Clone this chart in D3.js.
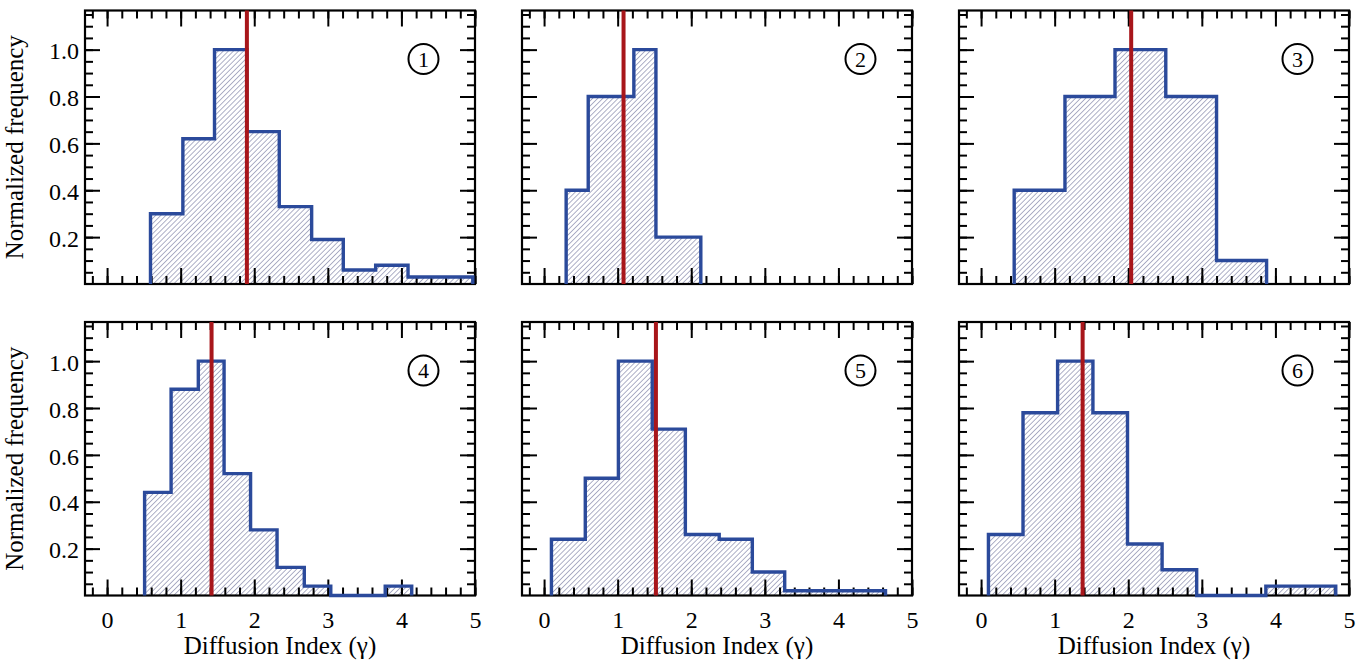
<!DOCTYPE html>
<html>
<head>
<meta charset="utf-8">
<script src="https://cdn.jsdelivr.net/npm/d3@7"></script>
<style>
  html, body { margin: 0; padding: 0; background: #fff; }
  svg { display: block; }
</style>
</head>
<body>
<svg id="chart" width="1368" height="662"></svg>
<script>
// Histogram panels: bin edges, normalized frequencies and the marked index (red line)
const panelLabels = ["1", "2", "3", "4", "5", "6"];

const edges1 = [0.59, 1.03, 1.46, 1.90, 2.34, 2.78, 3.21, 3.65, 4.09, 4.53, 4.97];
const freq1  = [0.30, 0.62, 1.00, 0.65, 0.33, 0.19, 0.06, 0.08, 0.03, 0.03];

const edges2 = [0.30, 0.60, 0.91, 1.22, 1.52, 1.82, 2.13];
const freq2  = [0.40, 0.80, 0.80, 1.00, 0.20, 0.20];

const edges3 = [0.45, 1.14, 1.82, 2.51, 3.20, 3.88];
const freq3  = [0.40, 0.80, 1.00, 0.80, 0.10];

const edges4 = [0.51, 0.87, 1.24, 1.59, 1.95, 2.31, 2.68, 3.04, 3.41, 3.78, 4.14];
const freq4  = [0.44, 0.88, 1.00, 0.52, 0.28, 0.12, 0.04, 0.00, 0.00, 0.04];

const edges5 = [0.10, 0.56, 1.01, 1.47, 1.92, 2.38, 2.83, 3.27, 3.73, 4.18, 4.64];
const freq5  = [0.24, 0.50, 1.00, 0.71, 0.26, 0.24, 0.10, 0.02, 0.02, 0.02];

const edges6 = [0.10, 0.57, 1.04, 1.52, 1.99, 2.46, 2.93, 3.40, 3.87, 4.35, 4.82];
const freq6  = [0.26, 0.78, 1.00, 0.78, 0.22, 0.11, 0.00, 0.00, 0.04, 0.04];

const markers = [1.90, 1.08, 2.04, 1.42, 1.52, 1.38];

const xMajorTicks = [0, 1, 2, 3, 4, 5];
const yMajorTicks = [0.2, 0.4, 0.6, 0.8, 1.0];
const yTickLabels = ["0.2", "0.4", "0.6", "0.8", "1.0"];

const xTitle = "Diffusion Index (\u03b3)";
const yTitle = "Normalized frequency";

const panels = [
  { edges: edges1, freq: freq1 },
  { edges: edges2, freq: freq2 },
  { edges: edges3, freq: freq3 },
  { edges: edges4, freq: freq4 },
  { edges: edges5, freq: freq5 },
  { edges: edges6, freq: freq6 }
];

// Layout
const plotW = 390, plotH = 273.5;
const colX = [85, 522, 959];
const rowY = [10.5, 322];
const xDomain = [-0.3, 5];
const yDomain = [0, 1.167];
const fontFamily = "'Liberation Serif', 'Times New Roman', serif";

const xMinor = d3.range(-0.2, 5.001, 0.2).map(v => +v.toFixed(2));
const yMinor = d3.range(0.05, 1.1501, 0.05).map(v => +v.toFixed(2));

const svg = d3.select("#chart");

// Diagonal hatch pattern
const defs = svg.append("defs");
const pat = defs.append("pattern")
  .attr("id", "hatch")
  .attr("patternUnits", "userSpaceOnUse")
  .attr("width", 3.6).attr("height", 3.6)
  .attr("patternTransform", "rotate(45)");
pat.append("line")
  .attr("x1", 0).attr("y1", 0).attr("x2", 0).attr("y2", 3.6)
  .attr("stroke", "#4e5283").attr("stroke-width", 0.9);

panels.forEach((p, i) => {
  const col = i % 3, row = Math.floor(i / 3);
  const g = svg.append("g").attr("transform", `translate(${colX[col]},${rowY[row]})`);

  const x = d3.scaleLinear().domain(xDomain).range([0, plotW]);
  const y = d3.scaleLinear().domain(yDomain).range([plotH, 0]);

  // step data: each edge paired with the bin height starting there
  const n = p.freq.length;
  const steps = p.edges.map((e, k) => ({ x: e, y: p.freq[Math.min(k, n - 1)] }));

  // hatched fill
  const area = d3.area()
    .curve(d3.curveStepAfter)
    .x(d => x(d.x)).y0(y(0)).y1(d => y(d.y));
  g.append("path").datum(steps)
    .attr("d", area)
    .attr("fill", "url(#hatch)");

  // axes: ticks on all four sides, pointing inward
  const axisStyle = sel => {
    sel.attr("font-family", null);
    sel.selectAll(".domain").remove();
    sel.selectAll(".tick line").attr("stroke", "#000").attr("stroke-width", 2);
    sel.selectAll("text").style("font-family", fontFamily).style("font-size", "24px").attr("fill", "#000");
  };

  const showX = row === 1, showY = col === 0;

  g.append("g").attr("transform", `translate(0,${plotH})`)
    .call(d3.axisBottom(x).tickValues(xMinor).tickSize(-8).tickFormat(""))
    .call(axisStyle);
  g.append("g").attr("transform", `translate(0,${plotH})`)
    .call(d3.axisBottom(x).tickValues(xMajorTicks).tickSize(-16).tickPadding(15)
      .tickFormat(showX ? d3.format("d") : ""))
    .call(axisStyle);
  g.append("g")
    .call(d3.axisTop(x).tickValues(xMinor).tickSize(-8).tickFormat(""))
    .call(axisStyle);
  g.append("g")
    .call(d3.axisTop(x).tickValues(xMajorTicks).tickSize(-16).tickFormat(""))
    .call(axisStyle);

  g.append("g")
    .call(d3.axisLeft(y).tickValues(yMinor).tickSize(-8).tickFormat(""))
    .call(axisStyle);
  g.append("g")
    .call(d3.axisLeft(y).tickValues(yMajorTicks).tickSize(-15).tickPadding(6)
      .tickFormat((d, k) => showY ? yTickLabels[k] : ""))
    .call(axisStyle)
    .call(s => s.selectAll("text").attr("dy", "0.38em"));
  g.append("g").attr("transform", `translate(${plotW},0)`)
    .call(d3.axisRight(y).tickValues(yMinor).tickSize(-8).tickFormat(""))
    .call(axisStyle);
  g.append("g").attr("transform", `translate(${plotW},0)`)
    .call(d3.axisRight(y).tickValues(yMajorTicks).tickSize(-15).tickFormat(""))
    .call(axisStyle);

  // frame
  g.append("rect")
    .attr("x", 0).attr("y", 0).attr("width", plotW).attr("height", plotH)
    .attr("fill", "none").attr("stroke", "#000").attr("stroke-width", 2.2);

  // step outline
  const outlinePts = [{ x: p.edges[0], y: 0 }, ...steps, { x: p.edges[p.edges.length - 1], y: 0 }];
  const line = d3.line().curve(d3.curveStepAfter).x(d => x(d.x)).y(d => y(d.y));
  g.append("path").datum(outlinePts)
    .attr("d", line)
    .attr("fill", "none")
    .attr("stroke", "#2b4a9b")
    .attr("stroke-width", 3.4)
    .attr("stroke-linejoin", "miter");

  // marker line
  g.append("line")
    .attr("x1", x(markers[i])).attr("x2", x(markers[i]))
    .attr("y1", y(yDomain[0])).attr("y2", y(yDomain[1]))
    .attr("stroke", "#a8161b").attr("stroke-width", 4);

  // circled panel number
  const cx = x(4.3), cy = y(0.96);
  g.append("circle").attr("cx", cx).attr("cy", cy).attr("r", 15)
    .attr("fill", "none").attr("stroke", "#000").attr("stroke-width", 2);
  g.append("text").attr("x", cx).attr("y", cy).attr("dy", "0.35em")
    .attr("text-anchor", "middle").style("font-family", fontFamily).style("font-size", "22px")
    .text(panelLabels[i]);

  if (showX) {
    g.append("text")
      .attr("x", plotW / 2).attr("y", plotH + 58)
      .attr("text-anchor", "middle").style("font-family", fontFamily).style("font-size", "25px")
      .text(xTitle);
  }
  if (showY) {
    g.append("text")
      .attr("transform", `translate(-62,${plotH / 2}) rotate(-90)`)
      .attr("text-anchor", "middle").style("font-family", fontFamily).style("font-size", "25px")
      .text(yTitle);
  }
});
</script>
</body>
</html>
